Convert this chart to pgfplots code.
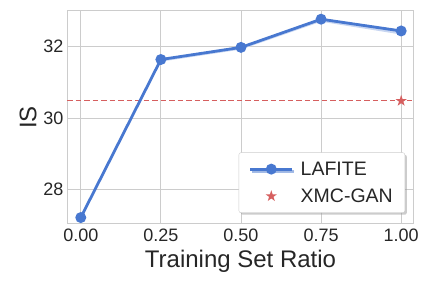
\documentclass[border=0pt]{standalone}
\usepackage{fontspec}
\setmainfont{Liberation Sans}
\usepackage{pgfplots}
\pgfplotsset{compat=1.18}
\usetikzlibrary{shadows}
\usepgfplotslibrary{fillbetween}
\definecolor{sblue}{HTML}{4878D0}
\definecolor{sred}{HTML}{D65F5F}
\definecolor{gridc}{HTML}{CCCCCC}
\definecolor{txt}{HTML}{262626}
\pgfdeclareplotmark{fstar}{%
 \pgfpathmoveto{\pgfpointpolar{90}{\pgfplotmarksize}}%
 \pgfpathlineto{\pgfpointpolar{126}{0.382\pgfplotmarksize}}%
 \pgfpathlineto{\pgfpointpolar{162}{\pgfplotmarksize}}%
 \pgfpathlineto{\pgfpointpolar{198}{0.382\pgfplotmarksize}}%
 \pgfpathlineto{\pgfpointpolar{234}{\pgfplotmarksize}}%
 \pgfpathlineto{\pgfpointpolar{270}{0.382\pgfplotmarksize}}%
 \pgfpathlineto{\pgfpointpolar{306}{\pgfplotmarksize}}%
 \pgfpathlineto{\pgfpointpolar{342}{0.382\pgfplotmarksize}}%
 \pgfpathlineto{\pgfpointpolar{18}{\pgfplotmarksize}}%
 \pgfpathlineto{\pgfpointpolar{54}{0.382\pgfplotmarksize}}%
 \pgfpathclose\pgfusepathqfill}
\begin{document}
\begin{tikzpicture}
\begin{axis}[
  scale only axis, width=347pt, height=213pt,
  xmin=-0.043, xmax=1.04, ymin=27.03, ymax=33.0,
  xtick={0,0.25,0.5,0.75,1.0},
  xticklabels={0.00,0.25,0.50,0.75,1.00},
  ytick={28,30,32},
  /pgf/number format/assume math mode=true,
  grid=major, grid style={gridc, line width=0.8pt},
  axis line style={gridc, line width=1pt},
  tick style={draw=none},
  ticklabel style={font=\fontsize{18}{21}\selectfont, text=txt},
  xticklabel style={yshift=-1pt},
  xlabel={Training Set Ratio}, ylabel={IS},
  label style={font=\fontsize{24}{28}\selectfont, text=txt},
  xlabel style={yshift=-2pt},
  ylabel style={yshift=0pt},
  legend style={at={(rel axis cs:0.974,0.052)}, anchor=south east,
    draw=gridc, fill=white, rounded corners=2pt,
    drop shadow={shadow xshift=2pt, shadow yshift=-2pt, fill=gray!80},
    font=\fontsize{19.5}{22}\selectfont, text=txt, row sep=8pt,
    inner xsep=5pt, inner ysep=7pt,
    nodes={inner xsep=7pt}},
  legend image code/.code={%
    \path (-5pt,0pt);
    \draw[mark repeat=2,mark phase=2] plot coordinates {(0pt,0pt) (21pt,0pt) (42pt,0pt)};},
  legend cell align=left,
  clip=false,
]
\addplot[name path=up, draw=none, forget plot] coordinates {(0,27.23) (0.25,31.66) (0.5,32.00) (0.75,32.79) (1.0,32.47)};
\addplot[name path=lo, draw=none, forget plot] coordinates {(0,27.17) (0.25,31.58) (0.5,31.92) (0.75,32.70) (1.0,32.34)};
\addplot[sblue!30, forget plot] fill between[of=up and lo];
\addplot[sred, line width=1.2pt, dash pattern=on 5.5pt off 3pt, forget plot] coordinates {(-0.043,30.48) (1.04,30.48)};
\addplot[sblue, line width=2.8pt, mark=*, mark size=4pt, mark options={solid}] coordinates {
(0,27.21) (0.25,31.64) (0.5,31.98) (0.75,32.77) (1.0,32.44)};
\addlegendentry{LAFITE}
\addplot[only marks, color=sred, mark=fstar, mark size=6pt,
  legend image code/.code={\path (-5pt,0pt); \path (42pt,0pt); \draw plot[only marks] coordinates {(21pt,0pt)};}] coordinates {(1.0,30.48)};
\addlegendentry{XMC-GAN}
\coordinate (bl) at (axis description cs:-0.1931,-0.3005);
\coordinate (tr) at (axis description cs:1.0519,1.0516);
\end{axis}
\pgfresetboundingbox
\path[use as bounding box] (bl) rectangle (tr);
\end{tikzpicture}
\end{document}
